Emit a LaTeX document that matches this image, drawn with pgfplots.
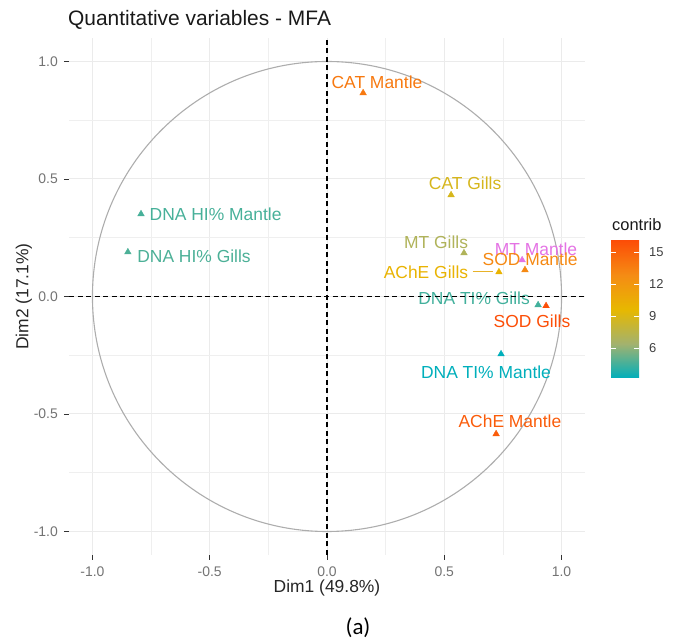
\documentclass[border=0pt]{standalone}
\usepackage{fontspec}
\setmainfont{Liberation Sans}
\newfontfamily\carlito{Carlito}
\usepackage{pgfplots}
\usepackage{pgfplotstable}
\pgfplotsset{compat=1.18}

\definecolor{mtm}{RGB}{228,115,228}
\definecolor{achec}{RGB}{232,178,40}
\definecolor{gridc}{RGB}{235,235,235}
\definecolor{cm0}{RGB}{0,175,187}
\definecolor{cm1}{RGB}{163,178,110}
\definecolor{cm2}{RGB}{231,184,0}
\definecolor{cm3}{RGB}{245,140,20}
\definecolor{cm4}{RGB}{252,78,7}
% label colours: the colour map evaluated at each variable's contribution
\definecolor{lCATm}{RGB}{247,121,16}
\definecolor{lCATg}{RGB}{214,182,28}
\definecolor{lHIm}{RGB}{71,176,153}
\definecolor{lHIg}{RGB}{76,176,151}
\definecolor{lMTg}{RGB}{176,179,90}
\definecolor{lSODm}{RGB}{245,137,19}
\definecolor{lAChEg}{RGB}{233,179,2}
\definecolor{lTIg}{RGB}{66,176,156}
\definecolor{lSODg}{RGB}{252,78,7}
\definecolor{lTIm}{RGB}{0,175,187}
\definecolor{lAChEm}{RGB}{250,92,10}
\newcommand\lblfont{\fontsize{17.5}{20}\selectfont}

\pgfplotsset{colormap={contrib}{rgb255=(0,175,187) rgb255=(163,178,110) rgb255=(231,184,0) rgb255=(245,140,20) rgb255=(252,78,7)}}
\pgfdeclareverticalshading{cbar}{100bp}{color(0bp)=(cm0); color(25bp)=(cm0); color(37.5bp)=(cm1); color(50bp)=(cm2); color(62.5bp)=(cm3); color(75bp)=(cm4); color(100bp)=(cm4)}

\pgfplotstableread{
x y c
0.154 0.866 13.8
0.529 0.432 8.8
-0.793 0.351 4.6
-0.849 0.189 4.7
0.584 0.185 7.0
0.844 0.113 13.0
0.733 0.104 10.0
0.900 -0.036 4.5
0.934 -0.040 16.0
0.742 -0.245 3.2
0.721 -0.585 15.3
}\vars

\begin{document}
\begin{tikzpicture}
\useasboundingbox (0,0) rectangle (674bp,640bp);
\begin{axis}[
  at={(69bp,85bp)}, anchor=south west,
  scale only axis, width=516bp, height=517bp,
  xmin=-1.1, xmax=1.1, ymin=-1.1, ymax=1.1,
  xtick={-1,-0.5,0,0.5,1}, ytick={-1,-0.5,0,0.5,1},
  xticklabels={-1.0,-0.5,0.0,0.5,1.0},
  yticklabels={-1.0,-0.5,0.0,0.5,1.0},
  minor xtick={-0.75,-0.25,0.25,0.75}, minor ytick={-0.75,-0.25,0.25,0.75},
  grid=both,
  major grid style={draw=gridc, line width=1bp},
  minor grid style={draw=gridc!80!white, line width=0.7bp},
  axis line style={draw=none},
  tick align=outside, tick pos=left,
  major tick length=5bp, minor tick length=0pt,
  major tick style={black!80, line width=0.9bp},
  xticklabel style={font=\fontsize{14}{16}\selectfont, text=black!55, anchor=north, inner sep=0pt, yshift=-7bp},
  yticklabel style={font=\fontsize{14}{16}\selectfont, text=black!55, anchor=east, inner sep=0pt, xshift=-6bp},
  xlabel={Dim1 (49.8\%)}, ylabel={Dim2 (17.1\%)},
  xlabel style={font=\fontsize{17.5}{20}\selectfont, text=black!85, at={(axis description cs:0.5,0)}, anchor=base, yshift=-38bp},
  ylabel style={font=\fontsize{17.5}{20}\selectfont, text=black!85, at={(axis description cs:0,0.5)}, anchor=base, yshift=40.5bp},
  colormap name=contrib,
  point meta min=3.2, point meta max=16.03,
]
\draw[black!32, line width=1.1bp] (axis cs:0,0) ellipse [x radius=1, y radius=1];

\addplot[only marks, mark=triangle*, mark size=3.8bp, color=mtm] coordinates {(0.832,0.155)};
\addplot[scatter, only marks, mark=triangle*, mark size=3.8bp, point meta=\thisrow{c},
  scatter/use mapped color={draw=mapped color, fill=mapped color}] table[x=x, y=y] {\vars};

\addplot[achec, line width=1bp] coordinates {(0.621,0.107) (0.706,0.107)};

\begin{scope}[every node/.style={font=\lblfont, inner sep=0pt}]
\node[text=mtm] at (axis cs:0.891,0.202) {MT Mantle};
\node[text=lCATm] at (axis cs:0.213,0.913) {CAT Mantle};
\node[text=lCATg] at (axis cs:0.589,0.483) {CAT Gills};
\node[text=lHIm] at (axis cs:-0.475,0.351) {DNA HI\% Mantle};
\node[text=lHIg] at (axis cs:-0.567,0.172) {DNA HI\% Gills};
\node[text=lMTg] at (axis cs:0.465,0.232) {MT Gills};
\node[text=lSODm] at (axis cs:0.866,0.160) {SOD Mantle};
\node[text=lAChEg] at (axis cs:0.422,0.104) {AChE Gills};
\node[text=lTIg] at (axis cs:0.627,-0.006) {DNA TI\% Gills};
\node[text=lSODg] at (axis cs:0.874,-0.104) {SOD Gills};
\node[text=lTIm] at (axis cs:0.678,-0.321) {DNA TI\% Mantle};
\node[text=lAChEm] at (axis cs:0.780,-0.530) {AChE Mantle};
\end{scope}

\addplot[black, line width=1.2bp, dash pattern=on 5bp off 3.5bp] coordinates {(-1.1,0) (1.1,0)};
\addplot[black, line width=1.2bp, dash pattern=on 5bp off 3.5bp] coordinates {(0,-1.1) (0,1.1)};
\end{axis}

% colour bar
\begin{axis}[
  at={(611bp,262bp)}, anchor=south west,
  scale only axis, width=28bp, height=137bp,
  xmin=0, xmax=1, ymin=3.2, ymax=16.03,
  xtick=\empty, ytick={6,9,12,15}, yticklabels={6,9,12,15},
  axis line style={draw=none}, axis on top,
  tick align=inside, ytick pos=both, yticklabel pos=right,
  major tick length=5bp,
  major tick style={white, line width=0.8bp},
  yticklabel style={font=\fontsize{13}{15}\selectfont, text=black!75, anchor=west, inner sep=0pt, xshift=10bp},
]
\shade[shading=cbar] (axis cs:0,3.2) rectangle (axis cs:1,16.03);
\end{axis}

\node[anchor=base west, inner sep=0pt, font=\fontsize{21}{24}\selectfont, text=black!90] at (68bp,614bp) {Quantitative variables - MFA};
\node[anchor=base west, inner sep=0pt, font=\fontsize{16.5}{19}\selectfont, text=black!90] at (612bp,409bp) {contrib};
\node[anchor=base, inner sep=0pt, font=\carlito\fontsize{23}{26}\selectfont] at (358bp,6bp) {(a)};
\end{tikzpicture}
\end{document}
